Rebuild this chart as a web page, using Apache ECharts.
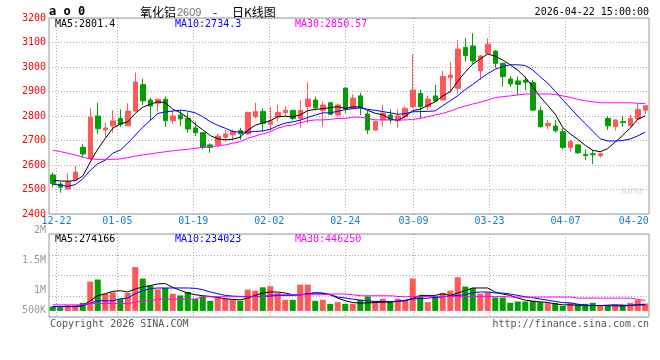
<!DOCTYPE html>
<html><head><meta charset="utf-8">
<script src="https://cdn.jsdelivr.net/npm/echarts@6/dist/echarts.min.js"></script>
<style>html,body{margin:0;padding:0;background:#fff}#c{width:660px;height:360px}</style>
</head><body><div id="c"></div>
<script>
// ---- data ----
const dates = ['12-19','12-22','12-23','12-24','12-25','12-26','12-29','12-30','12-31',
'01-05','01-06','01-07','01-08','01-09','01-12','01-13','01-14','01-15','01-16',
'01-19','01-20','01-21','01-22','01-23','01-26','01-27','01-28','01-29','01-30',
'02-02','02-03','02-04','02-05','02-06','02-09','02-10','02-11','02-12','02-13',
'02-24','02-25','02-26','02-27','03-02','03-03','03-04','03-05','03-06',
'03-09','03-10','03-11','03-12','03-13','03-16','03-17','03-18','03-19','03-20',
'03-23','03-24','03-25','03-26','03-27','03-30','03-31','04-01','04-02','04-03',
'04-07','04-08','04-09','04-10','04-13','04-14','04-15','04-16','04-17',
'04-20','04-21','04-22'];
const opens  = [2559,2522,2502,2539,2672,2626,2800,2743,2760,2790, 2760,2820,2928,2865,2852,2868,2781,2804,2790,2751,
                2732,2682,2682,2713,2723,2740,2727,2797,2818,2766, 2797,2814,2823,2790,2838,2865,2823,2854,2804,2914,
                2834,2882,2808,2743,2784,2804,2781,2797,2838,2892, 2838,2882,2865,2956,2913,3080,3086,2984,3056,3065,
                3015,2951,2943,2947,2936,2822,2760,2759,2736,2672, 2682,2643,2646,2638,2790,2756,2777,2760,2788,2824];
const closes = [2525,2509,2532,2571,2645,2795,2748,2751,2780,2766, 2820,2939,2862,2841,2868,2781,2800,2788,2747,2732,
                2672,2672,2718,2727,2736,2727,2814,2818,2770,2780, 2814,2823,2790,2823,2869,2834,2845,2807,2845,2829,
                2873,2834,2743,2777,2811,2784,2800,2831,2906,2838, 2869,2861,2961,2967,3073,3046,3025,3045,3093,3015,
                2961,2931,2929,2938,2824,2756,2770,2740,2672,2695, 2650,2638,2642,2646,2760,2784,2773,2790,2827,2842];
const lows   = [2509,2487,2500,2537,2631,2620,2727,2713,2732,2756, 2759,2817,2845,2781,2818,2756,2767,2760,2732,2718,
                2664,2650,2672,2695,2702,2702,2723,2790,2736,2739, 2777,2800,2781,2752,2770,2823,2756,2804,2800,2811,
                2827,2804,2727,2740,2756,2770,2753,2793,2831,2790, 2824,2858,2865,2895,2892,3022,3014,2947,3052,2997,
                2920,2920,2886,2906,2820,2753,2747,2732,2664,2654, 2645,2620,2604,2631,2743,2740,2756,2759,2784,2808];
const highs  = [2569,2532,2566,2596,2686,2831,2854,2773,2824,2827, 2852,2977,2952,2873,2872,2879,2822,2823,2814,2777,
                2735,2689,2729,2743,2745,2752,2818,2854,2831,2838, 2845,2838,2825,2865,2937,2879,2858,2858,2852,2917,
                2889,2895,2822,2780,2845,2827,2827,2838,3052,2906, 2882,2927,2984,3019,3110,3117,3138,3049,3117,3069,
                3019,2963,2961,2961,2947,2838,2784,2784,2750,2702, 2686,2664,2661,2650,2800,2787,2800,2804,2852,2845];
const ma5  = [2537,2535,2534,2536,2555,2612,2665,2708,2750,2768, 2776,2811,2836,2848,2858,2854,2828,2814,2793,2766,
              2744,2720,2707,2703,2705,2714,2742,2762,2772,2781, 2797,2799,2796,2805,2822,2827,2830,2834,2838,2831,
              2837,2837,2823,2811,2805,2788,2782,2798,2822,2828, 2843,2858,2882,2899,2942,2979,3012,3033,3053,3044,
              3028,3009,2987,2958,2920,2878,2843,2807,2753,2727, 2705,2680,2660,2654,2667,2694,2721,2751,2787,2801];
const ma10 = [2522,2518,2513,2520,2543,2578,2605,2620,2648,2661, 2689,2722,2754,2782,2810,2817,2820,2824,2820,2813,
              2797,2777,2762,2750,2737,2734,2734,2737,2739,2746, 2760,2771,2776,2783,2794,2804,2813,2813,2819,2826,
              2830,2833,2827,2823,2818,2813,2807,2810,2817,2818, 2819,2821,2842,2862,2883,2908,2929,2952,2973,2991,
              3001,3009,3009,3006,2988,2960,2934,2901,2866,2833, 2800,2769,2738,2707,2698,2698,2700,2706,2719,2734];
const ma30 = [2660,2655,2648,2641,2632,2625,2623,2623,2623,2625, 2630,2636,2641,2645,2650,2654,2658,2661,2664,2668,
              2672,2675,2678,2682,2689,2695,2709,2718,2727,2736, 2750,2759,2763,2773,2780,2784,2784,2786,2790,2790,
              2795,2795,2790,2784,2784,2784,2784,2784,2786,2790, 2797,2804,2811,2820,2831,2841,2849,2856,2865,2875,
              2879,2882,2886,2890,2890,2890,2890,2888,2882,2876, 2868,2862,2858,2854,2854,2854,2854,2854,2852,2851];
const volumes = [173000,147000,227000,227000,320000,1160000,1240000,680000,733000,480000,
                 707000,1733000,1280000,1000000,853000,907000,680000,613000,747000,480000,
                 573000,400000,533000,480000,440000,400000,840000,800000,933000,973000,
                 707000,440000,440000,1040000,1040000,400000,440000,280000,347000,280000,
                 280000,440000,573000,400000,480000,373000,480000,400000,1280000,600000,
                 347000,573000,707000,800000,1333000,960000,907000,680000,733000,533000,
                 533000,320000,373000,373000,400000,347000,307000,307000,200000,307000,
                 267000,280000,320000,200000,200000,240000,240000,320000,427000,293000];
const volMa5 = [173000,173000,173000,173000,213000,400000,600000,680000,773000,800000,
                747000,867000,947000,1000000,1067000,1080000,933000,813000,707000,640000,
                600000,573000,533000,480000,453000,440000,507000,613000,707000,747000,
                747000,707000,640000,640000,667000,720000,693000,640000,507000,400000,
                333000,307000,320000,333000,347000,347000,387000,400000,480000,613000,
                613000,613000,680000,613000,707000,800000,907000,907000,907000,747000,
                667000,613000,507000,427000,387000,360000,333000,280000,240000,240000,
                227000,213000,213000,213000,227000,240000,227000,213000,240000,240000];
const volMa10 = [173000,173000,173000,173000,200000,307000,400000,400000,400000,480000,
                 507000,680000,800000,880000,907000,907000,907000,907000,907000,893000,
                 840000,747000,680000,613000,587000,573000,573000,573000,573000,587000,
                 613000,613000,613000,640000,680000,707000,707000,640000,547000,507000,
                 467000,427000,400000,373000,373000,373000,373000,427000,480000,480000,
                 507000,533000,560000,587000,613000,640000,720000,747000,747000,707000,
                 707000,667000,613000,560000,520000,467000,427000,373000,333000,320000,
                 267000,227000,213000,213000,213000,200000,187000,227000,240000,240000];
const volMa30 = [240000,240000,240000,240000,240000,293000,293000,293000,293000,293000,
                 293000,347000,400000,400000,467000,467000,467000,467000,467000,467000,
                 560000,560000,560000,560000,560000,560000,560000,560000,560000,640000,
                 640000,640000,640000,640000,640000,640000,640000,667000,667000,667000,
                 640000,600000,600000,600000,600000,600000,573000,560000,573000,573000,
                 573000,573000,573000,573000,573000,573000,573000,573000,573000,573000,
                 573000,547000,547000,547000,547000,547000,547000,547000,547000,547000,
                 507000,507000,507000,507000,507000,507000,507000,507000,453000,413000];
const labelDates = ['12-22','01-05','01-19','02-02','02-24','03-09','03-23','04-07','04-20'];
const gridDates  = ['12-22','01-05','01-19','02-02','02-24','03-09','03-23','04-07'];
const priceTicks = {min: 2400, max: 3200, step: 100};
const volTickLabels = ['2M','1.5M','1M','500K'];
const priceHeader = {ma5: '2801.4', ma10: '2734.3', ma30: '2850.57'};
const volHeader = {ma5: '274166', ma10: '234023', ma30: '446250'};
const titleName = '氧化铝', titleCode = '2609', titleTail = '日K线图';
const stamp = '2026-04-22 15:00:00';

// ---- styles / layout ----
const RED = '#ff5858', GREEN = '#00a000';
const MONO = 'DejaVu Sans Mono';
const gridColor = '#aaaaaa';
const volLabelY = [230, 260, 290.7, 310.7];
const dateLabelY = 221;

const candle = dates.map((d, i) => [opens[i], closes[i], lows[i], highs[i]]);
const volBars = volumes.map((v, i) => ({value: v, itemStyle: {color: closes[i] >= opens[i] ? RED : GREEN}}));
const showGrid = (i, v) => gridDates.indexOf(v) >= 0;
const dotted = {color: gridColor, width: 1, type: [1, 2]};

const chart = echarts.init(document.getElementById('c'), null, {renderer: 'canvas'});
const txt = (x, y, text, fill, extra) => Object.assign({type: 'text', x: x, y: y, silent: true,
  style: Object.assign({text: text, fill: fill, font: '10px "' + MONO + '"', verticalAlign: 'middle'}, extra || {})});

const graphic = [
  txt(49, 12, 'a o 0', '#000', {font: 'bold 12px "' + MONO + '"'}),
  txt(140, 12, titleName, '#000', {font: '12px "Noto Sans CJK SC"'}),
  txt(177, 12.5, titleCode, '#777', {font: '11px "Liberation Sans"'}),
  txt(213, 12, '-', '#000', {font: '12px "Noto Sans CJK SC"'}),
  txt(232, 12, titleTail, '#000', {font: '12px "Noto Sans CJK SC"'}),
  txt(649, 12, stamp, '#000', {align: 'right'}),
  txt(55, 24.5, 'MA5:' + priceHeader.ma5, '#000'),
  txt(175, 24.5, 'MA10:' + priceHeader.ma10, '#0000ff'),
  txt(295, 24.5, 'MA30:' + priceHeader.ma30, '#ff00ff'),
  txt(55, 239.5, 'MA5:' + volHeader.ma5, '#000'),
  txt(175, 239.5, 'MA10:' + volHeader.ma10, '#0000ff'),
  txt(295, 239.5, 'MA30:' + volHeader.ma30, '#ff00ff'),
  txt(50, 324.5, 'Copyright 2026 SINA.COM', '#555'),
  txt(649, 324.5, 'http://finance.sina.com.cn', '#555', {align: 'right'}),
  txt(632, 191, 'sina', '#e4e4e4', {font: 'italic bold 11px "Liberation Sans"', align: 'center'})
].concat(volTickLabels.map((t, i) => txt(46, volLabelY[i], t, '#999', {align: 'right'})));

const lineS = (name, data, color, xi, yi) => ({name: name, type: 'line', data: data, xAxisIndex: xi, yAxisIndex: yi,
  symbol: 'none', smooth: false, lineStyle: {color: color, width: 1}, silent: true, z: 3});

chart.setOption({
  animation: false,
  backgroundColor: '#fff',
  grid: [
    {left: 49, top: 18, width: 600, height: 196, show: true, borderColor: '#999', borderWidth: 1},
    {left: 49, top: 234, width: 600, height: 83, show: true, borderColor: '#999', borderWidth: 1}
  ],
  xAxis: [
    {type: 'category', gridIndex: 0, position: 'top', data: dates, boundaryGap: true, axisLine: {show: false}, axisTick: {show: false},
     axisLabel: {show: false}, splitLine: {show: false}},
    {type: 'category', gridIndex: 0, position: 'bottom', data: dates, boundaryGap: false, axisLine: {show: false}, axisTick: {show: false},
     axisLabel: {show: false}, splitLine: {show: true, interval: showGrid, lineStyle: dotted}},
    {type: 'category', gridIndex: 1, position: 'bottom', data: dates, boundaryGap: true, axisLine: {show: false}, axisTick: {show: false},
     axisLabel: {show: false}, splitLine: {show: false}},
    {type: 'category', gridIndex: 1, position: 'top', data: dates, boundaryGap: false, axisLine: {show: false}, axisTick: {show: false},
     axisLabel: {show: false}, splitLine: {show: true, interval: showGrid, lineStyle: dotted}}
  ],
  yAxis: [
    {type: 'value', gridIndex: 0, min: priceTicks.min, max: priceTicks.max, interval: priceTicks.step,
     axisLine: {show: false}, axisTick: {show: false},
     axisLabel: {color: '#ff0000', fontFamily: MONO, fontSize: 10, margin: 3, padding: [0, 0, 4, 0],
                 formatter: v => String(v)},
     splitLine: {show: true, lineStyle: dotted}},
    {type: 'value', gridIndex: 1, min: -240000, max: 3040000, interval: 820000,
     axisLine: {show: false}, axisTick: {show: false}, axisLabel: {show: false},
     splitLine: {show: true, lineStyle: dotted}}
  ],
  series: [
    {type: 'candlestick', xAxisIndex: 0, yAxisIndex: 0, data: candle, barWidth: 5, silent: true,
     itemStyle: {color: RED, color0: GREEN, borderColor: RED, borderColor0: GREEN, borderWidth: 1}},
    lineS('MA5', ma5, '#000000', 0, 0),
    lineS('MA10', ma10, '#0000ff', 0, 0),
    lineS('MA30', ma30, '#ff00ff', 0, 0),
    {type: 'bar', xAxisIndex: 2, yAxisIndex: 1, data: volBars, barWidth: 6, silent: true},
    lineS('VMA5', volMa5, '#000000', 2, 1),
    lineS('VMA10', volMa10, '#0000ff', 2, 1),
    lineS('VMA30', volMa30, '#ff00ff', 2, 1)
  ],
  graphic: graphic
});

// date labels: placed through the category axis scale (xAxis 1, point positions)
const dateTexts = labelDates.map(d => {
  const x = chart.convertToPixel({xAxisIndex: 1}, d);
  return txt(x, dateLabelY, d, '#1080cc', {align: 'center'});
});
chart.setOption({graphic: graphic.concat(dateTexts)});
</script></body></html>
